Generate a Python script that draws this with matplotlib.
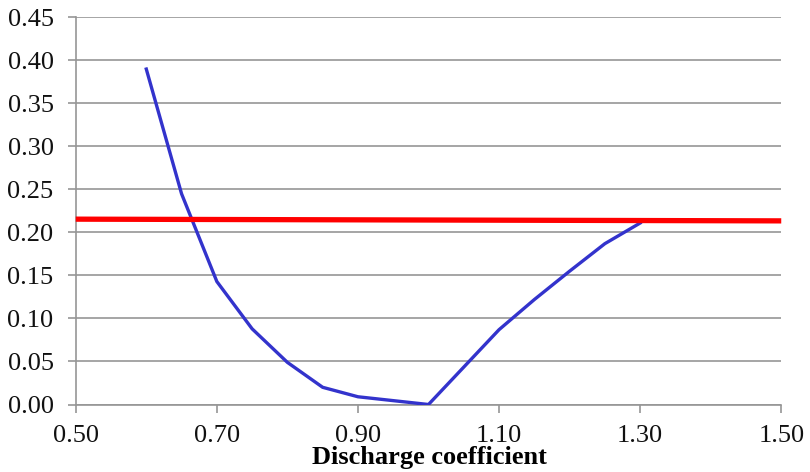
import matplotlib
matplotlib.use("Agg")
import matplotlib.pyplot as plt

# blue curve: error vs discharge coefficient
cd = [0.60, 0.65, 0.70, 0.75, 0.80, 0.85, 0.90, 1.00, 1.10, 1.15, 1.20, 1.25, 1.30]
err = [0.390, 0.245, 0.143, 0.088, 0.049, 0.020, 0.009, 0.000, 0.087, 0.122, 0.155, 0.187, 0.211]

# red threshold line
thr_x = [0.50, 1.50]
thr_y = [0.2155, 0.2135]

xticks = [0.50, 0.70, 0.90, 1.10, 1.30, 1.50]
yticks = [0.00, 0.05, 0.10, 0.15, 0.20, 0.25, 0.30, 0.35, 0.40, 0.45]

plt.rcParams['font.family'] = ['Liberation Serif', 'DejaVu Serif']

fig = plt.figure(figsize=(8.1, 4.72), dpi=100)
ax = fig.add_axes([0.0935, 0.143, 0.871, 0.820])

grid_col = '#969696'
ax.plot(cd, err, color='#3333cc', lw=2.4, solid_joinstyle='round', zorder=3)
ax.plot(thr_x, thr_y, color='#ff0000', lw=3.8, solid_capstyle='butt', zorder=4, clip_on=False)

ax.set_xlim(0.50, 1.50)
ax.set_ylim(0.0, 0.45)
ax.set_xticks(xticks)
ax.set_yticks(yticks)
ax.set_xticklabels([f'{v:.2f}' for v in xticks])
ax.set_yticklabels([f'{v:.2f}' for v in yticks])
ax.yaxis.grid(True, color=grid_col, lw=1.2)
ax.set_axisbelow(True)

for s in ['top', 'right']:
    ax.spines[s].set_visible(False)
for s in ['left', 'bottom']:
    ax.spines[s].set_color(grid_col)
    ax.spines[s].set_linewidth(1.2)

ax.tick_params(axis='both', direction='out', length=6, width=1.2, color=grid_col,
               labelsize=19, labelcolor='#111111')
ax.tick_params(axis='x', pad=8.5)
ax.tick_params(axis='y', pad=10)

ax.set_xlabel('Discharge coefficient', fontsize=19, fontweight='bold')
ax.xaxis.set_label_coords(0.501, -0.107)

fig.savefig('out.png', dpi=100)
